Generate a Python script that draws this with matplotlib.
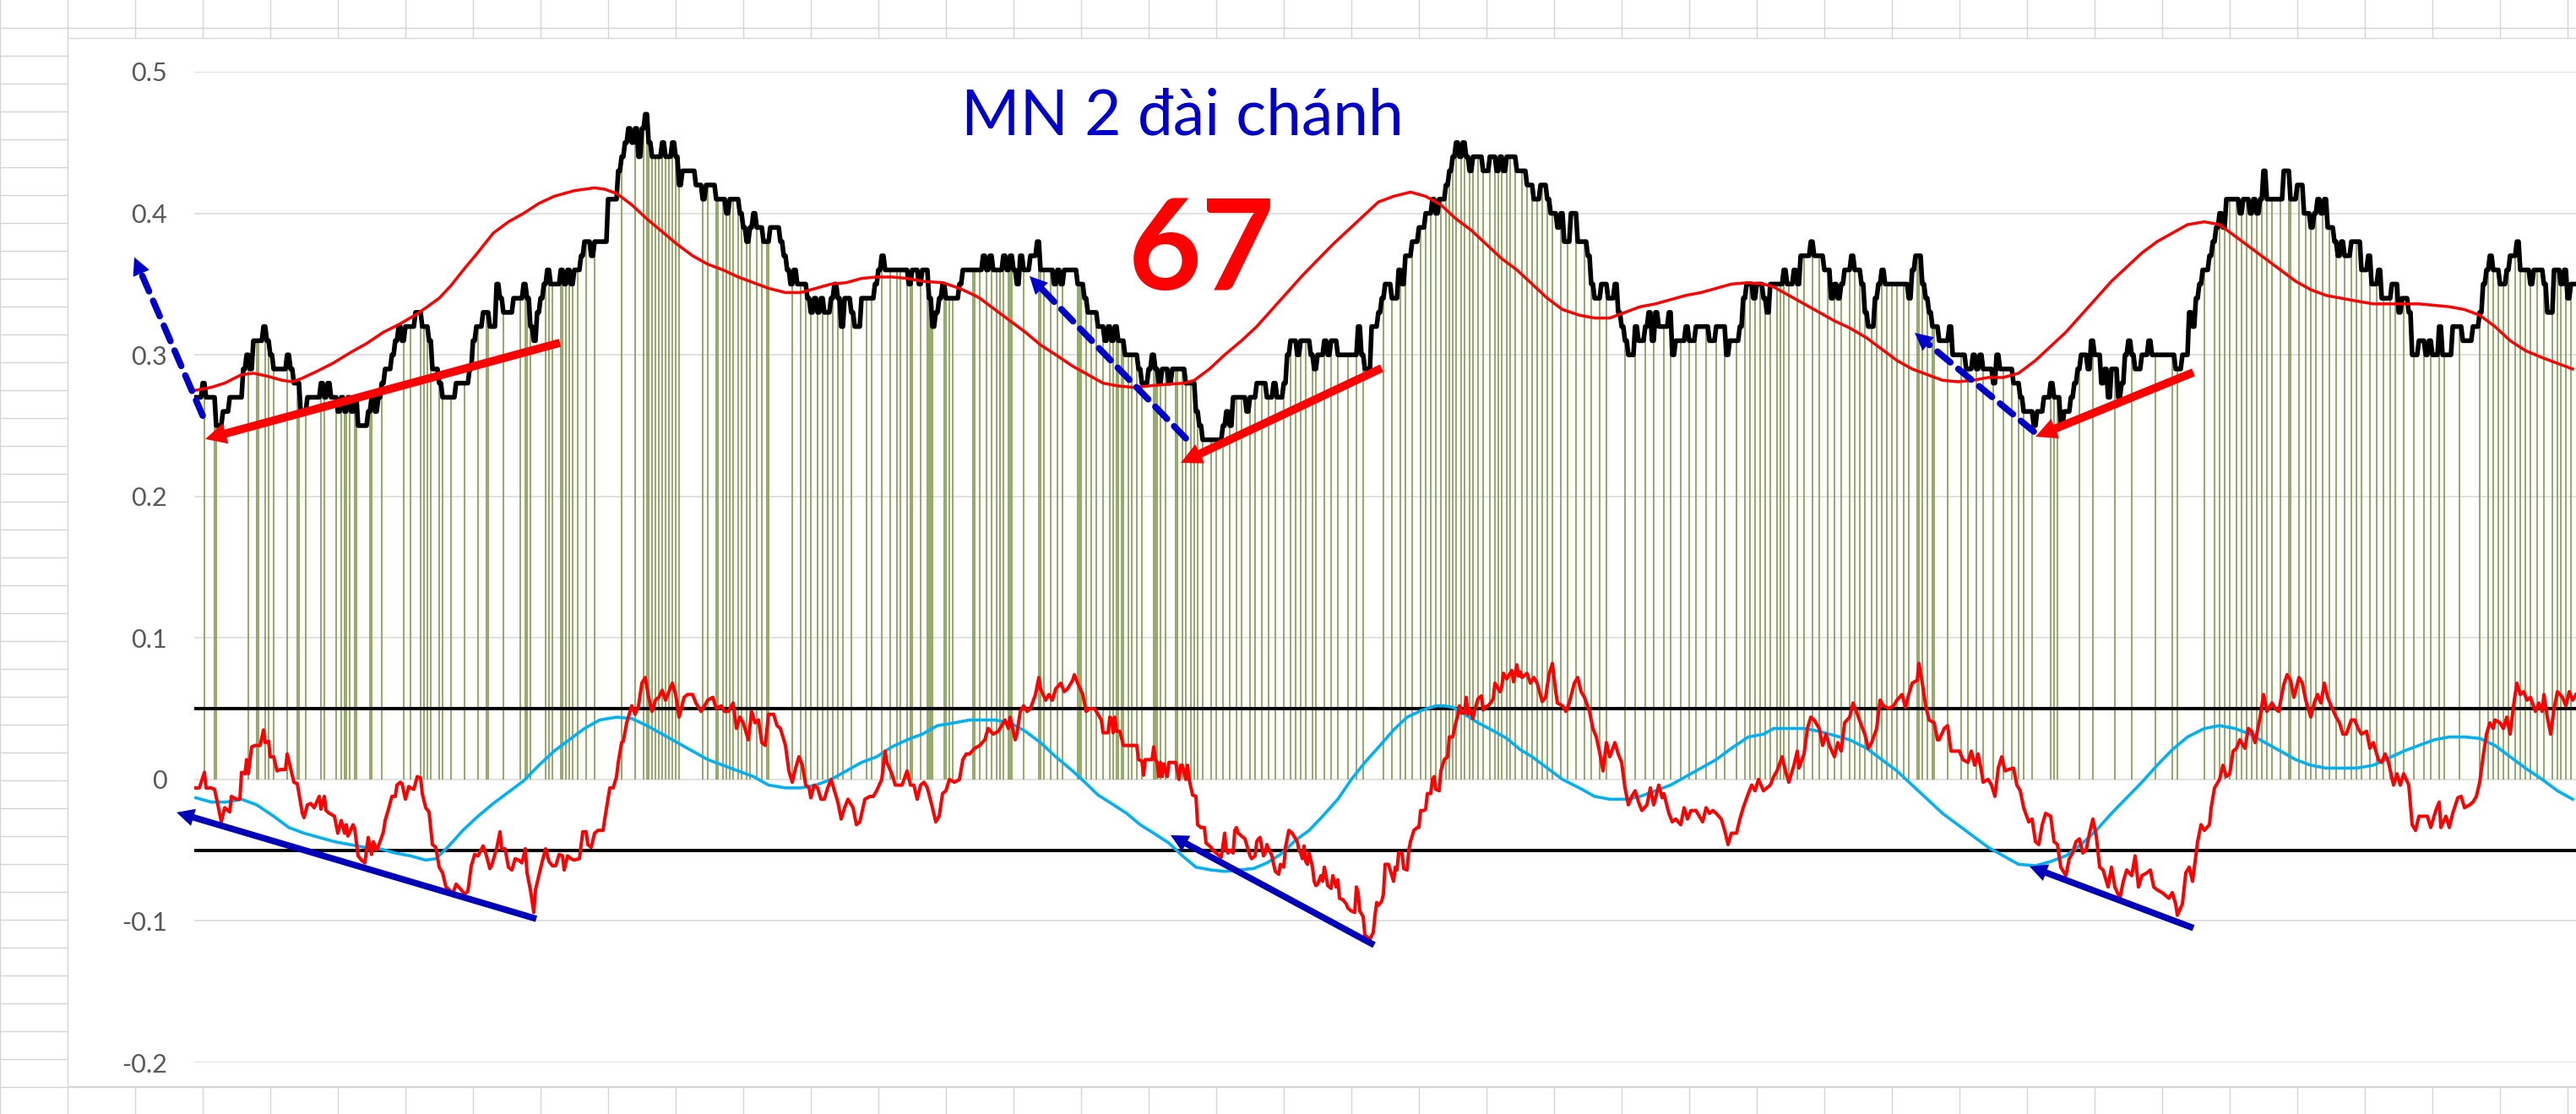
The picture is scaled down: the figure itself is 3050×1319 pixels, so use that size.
import numpy as np
import matplotlib.pyplot as plt
from matplotlib.lines import Line2D
from matplotlib.patches import Rectangle

plt.rcParams['font.family'] = ['Lato', 'DejaVu Sans']

# ---------------- data (x = day index) ----------------
n_days = 1410

# main series (black step line), run-length: day where a level starts, level in hundredths
black_start = [
    0, 4, 6, 12, 16, 20, 28, 30, 32, 34,
    40, 42, 44, 46, 54, 56, 58, 62, 66, 74,
    76, 78, 80, 84, 86, 88, 90, 92, 94, 96,
    102, 104, 106, 108, 110, 112, 116, 118, 120, 122,
    124, 130, 134, 138, 140, 144, 146, 154, 162, 164,
    166, 170, 174, 178, 180, 182, 188, 194, 196, 198,
    200, 202, 204, 206, 208, 210, 216, 218, 220, 222,
    224, 228, 230, 234, 236, 244, 250, 252, 254, 256,
    258, 260, 262, 264, 266, 268, 270, 276, 278, 282,
    284, 286, 288, 296, 300, 302, 308, 314, 316, 322,
    324, 326, 328, 330, 332, 336, 340, 346, 348, 350,
    352, 354, 356, 362, 364, 366, 368, 370, 372, 376,
    378, 380, 382, 384, 388, 390, 394, 402, 404, 406,
    408, 422, 424, 428, 430, 434, 436, 438, 440, 442,
    444, 452, 454, 466, 468, 470, 472, 478, 480, 482,
    484, 486, 488, 490, 494, 498, 500, 508, 510, 512,
    514, 522, 526, 528, 534, 538, 540, 542, 544, 546,
    550, 558, 560, 564, 566, 568, 570, 572, 576, 578,
    586, 592, 594, 596, 608, 610, 612, 614, 622, 624,
    628, 634, 638, 640, 644, 646, 648, 652, 654, 660,
    662, 664, 668, 670, 672, 676, 688, 690, 692, 696,
    700, 702, 704, 708, 712, 714, 716, 720, 724, 728,
    732, 734, 736, 740, 742, 744, 746, 748, 750, 752,
    754, 756, 762, 766, 770, 772, 774, 776, 782, 788,
    792, 796, 800, 802, 806, 808, 810, 814, 818, 824,
    826, 828, 832, 836, 840, 842, 844, 846, 848, 852,
    854, 858, 860, 862, 864, 866, 872, 874, 876, 882,
    884, 888, 896, 900, 906, 908, 914, 916, 918, 922,
    924, 928, 930, 932, 940, 942, 946, 948, 950, 956,
    958, 964, 968, 970, 972, 974, 976, 980, 982, 986,
    988, 990, 994, 996, 998, 1000, 1014, 1016, 1018, 1022,
    1024, 1026, 1028, 1032, 1038, 1040, 1048, 1052, 1054, 1056,
    1058, 1064, 1066, 1068, 1076, 1080, 1082, 1088, 1090, 1094,
    1098, 1100, 1104, 1106, 1110, 1112, 1114, 1116, 1120, 1122,
    1124, 1128, 1130, 1132, 1134, 1138, 1140, 1142, 1144, 1146,
    1148, 1152, 1156, 1158, 1172, 1176, 1180, 1182, 1184, 1186,
    1188, 1192, 1194, 1196, 1198, 1200, 1202, 1210, 1212, 1216,
    1218, 1220, 1222, 1224, 1226, 1236, 1240, 1244, 1248, 1252,
    1254, 1256, 1258, 1260, 1262, 1266, 1268, 1270, 1272, 1276,
    1282, 1286, 1288, 1292, 1294, 1300, 1304, 1306, 1310, 1312,
    1316, 1320, 1322, 1324, 1328, 1330, 1336, 1342, 1348, 1352,
    1354, 1356, 1358, 1360, 1364, 1368, 1370, 1374, 1376, 1382,
    1384, 1390, 1392, 1396, 1400, 1402, 1404, 1406,
]
black_level = [
    27, 28, 27, 25, 26, 27, 29, 30, 29, 31,
    32, 31, 30, 29, 30, 29, 28, 26, 27, 28,
    27, 28, 27, 26, 27, 26, 27, 26, 27, 25,
    26, 27, 26, 27, 28, 29, 30, 31, 32, 31,
    32, 33, 32, 31, 29, 28, 27, 28, 29, 31,
    32, 33, 32, 35, 34, 33, 34, 35, 34, 32,
    31, 33, 34, 35, 36, 35, 36, 35, 36, 35,
    36, 37, 38, 37, 38, 41, 43, 44, 45, 46,
    45, 46, 44, 46, 47, 45, 44, 45, 44, 45,
    44, 42, 43, 42, 41, 42, 41, 40, 41, 40,
    39, 38, 39, 40, 39, 38, 39, 38, 37, 36,
    35, 36, 35, 34, 33, 34, 33, 34, 33, 34,
    35, 34, 32, 34, 33, 32, 34, 35, 36, 37,
    36, 35, 36, 35, 36, 34, 32, 33, 34, 35,
    34, 35, 36, 37, 36, 37, 36, 37, 36, 37,
    36, 35, 37, 36, 37, 38, 36, 35, 36, 35,
    36, 35, 34, 33, 32, 31, 32, 31, 32, 31,
    30, 29, 28, 29, 30, 29, 28, 29, 28, 29,
    28, 26, 25, 24, 25, 26, 25, 27, 26, 27,
    28, 27, 28, 27, 28, 30, 31, 30, 31, 30,
    29, 30, 31, 30, 31, 30, 32, 30, 29, 32,
    33, 34, 35, 34, 36, 35, 37, 38, 39, 40,
    41, 40, 41, 42, 43, 44, 45, 44, 45, 44,
    43, 44, 43, 44, 43, 44, 43, 44, 43, 42,
    41, 42, 41, 40, 39, 40, 38, 40, 38, 37,
    35, 34, 35, 34, 35, 33, 32, 31, 30, 32,
    31, 32, 33, 31, 33, 32, 33, 30, 31, 32,
    31, 32, 31, 32, 30, 31, 32, 34, 35, 34,
    35, 34, 33, 35, 36, 35, 36, 35, 37, 38,
    37, 36, 34, 35, 34, 35, 36, 37, 36, 35,
    33, 32, 34, 35, 36, 35, 34, 36, 37, 35,
    34, 33, 32, 31, 32, 30, 29, 30, 29, 30,
    29, 28, 30, 29, 28, 27, 26, 25, 26, 27,
    28, 27, 25, 26, 27, 28, 29, 30, 29, 31,
    30, 28, 29, 27, 29, 27, 28, 30, 31, 30,
    29, 30, 31, 30, 29, 30, 33, 32, 34, 35,
    36, 37, 38, 39, 40, 39, 41, 40, 41, 40,
    41, 40, 41, 43, 41, 43, 41, 42, 40, 39,
    40, 41, 40, 41, 39, 38, 37, 38, 37, 38,
    36, 37, 35, 36, 34, 35, 33, 34, 33, 30,
    31, 30, 31, 30, 32, 30, 32, 31, 32, 33,
    35, 36, 37, 36, 35, 36, 37, 38, 36, 35,
    36, 35, 33, 36, 35, 36, 34, 35,
]

# red moving average of the main series
ma_day = [
    0, 9, 17, 27, 34, 42, 51, 57, 62, 71,
    81, 92, 101, 111, 121, 131, 137, 144, 151, 159,
    166, 176, 185, 194, 203, 212, 224, 236, 242, 249,
    258, 267, 276, 285, 294, 303, 312, 321, 330, 339,
    349, 358, 367, 376, 385, 394, 403, 412, 421, 430,
    442, 452, 461, 464, 473, 482, 491, 500, 509, 519,
    528, 537, 546, 555, 564, 573, 585, 591, 600, 609,
    619, 628, 637, 646, 655, 664, 673, 682, 691, 700,
    709, 719, 728, 737, 746, 755, 764, 773, 782, 791,
    800, 809, 819, 828, 837, 846, 855, 864, 873, 882,
    891, 900, 909, 919, 928, 934, 943, 952, 961, 970,
    979, 989, 998, 1007, 1016, 1025, 1034, 1043, 1052, 1061,
    1070, 1079, 1089, 1098, 1107, 1116, 1125, 1134, 1143, 1152,
    1161, 1170, 1179, 1189, 1198, 1207, 1216, 1225, 1234, 1243,
    1252, 1261, 1270, 1279, 1289, 1298, 1307, 1316, 1325, 1334,
    1343, 1352, 1361, 1370, 1379, 1389, 1398, 1407,
]
ma_val = [
    .275, .277, .280, .286, .287, .285, .282, .281, .283, .288,
    .294, .302, .308, .316, .322, .329, .334, .340, .349, .361,
    .371, .386, .394, .400, .407, .412, .416, .418, .417, .414,
    .406, .396, .387, .378, .370, .364, .360, .355, .351, .347,
    .344, .344, .347, .350, .351, .354, .355, .355, .354, .352,
    .351, .347, .342, .340, .332, .324, .316, .307, .300, .292,
    .286, .280, .278, .277, .278, .279, .280, .282, .290, .300,
    .310, .320, .332, .344, .356, .367, .378, .388, .398, .408,
    .412, .415, .412, .406, .396, .388, .378, .368, .360, .350,
    .340, .332, .328, .326, .326, .330, .334, .336, .339, .342,
    .344, .347, .350, .351, .350, .348, .342, .336, .330, .324,
    .319, .312, .304, .296, .290, .286, .282, .281, .282, .284,
    .284, .287, .296, .306, .316, .328, .340, .352, .362, .372,
    .380, .386, .392, .394, .392, .384, .376, .368, .360, .352,
    .346, .342, .340, .338, .336, .336, .336, .336, .335, .334,
    .332, .328, .320, .310, .303, .298, .294, .290,
]

# cyan signal line
cyan_day = [
    0, 9, 18, 27, 36, 46, 55, 64, 73, 82,
    91, 100, 109, 118, 127, 136, 142, 149, 158, 167,
    176, 185, 194, 203, 212, 221, 230, 239, 249, 258,
    267, 276, 285, 294, 303, 312, 321, 330, 339, 349,
    358, 367, 376, 385, 394, 403, 412, 421, 430, 439,
    449, 458, 464, 473, 482, 491, 500, 509, 519, 528,
    534, 542, 551, 559, 567, 576, 584, 592, 601, 609,
    617, 626, 634, 642, 651, 659, 667, 676, 684, 692,
    701, 709, 717, 726, 734, 739, 744, 751, 759, 767,
    776, 784, 791, 800, 809, 819, 828, 837, 846, 855,
    864, 873, 882, 891, 900, 909, 919, 928, 934, 943,
    952, 961, 970, 979, 989, 998, 1007, 1016, 1025, 1034,
    1043, 1052, 1061, 1070, 1079, 1089, 1098, 1107, 1116, 1125,
    1134, 1143, 1152, 1161, 1170, 1179, 1189, 1198, 1207, 1216,
    1225, 1234, 1243, 1252, 1261, 1270, 1279, 1289, 1298, 1307,
    1316, 1325, 1334, 1343, 1352, 1361, 1370, 1379, 1389, 1398,
    1407,
]
cyan_val = [
    -.013, -.016, -.016, -.014, -.018, -.026, -.034, -.038, -.041, -.044,
    -.046, -.048, -.049, -.052, -.054, -.057, -.056, -.048, -.036, -.026,
    -.017, -.009, -.001, .010, .020, .028, .036, .042, .044, .043,
    .038, .032, .026, .020, .014, .010, .006, .002, -.004, -.006,
    -.006, -.004, .000, .006, .012, .016, .023, .028, .032, .038,
    .040, .042, .042, .042, .040, .034, .026, .016, .006, -.004,
    -.011, -.017, -.024, -.032, -.038, -.045, -.054, -.062, -.064, -.065,
    -.064, -.063, -.059, -.053, -.043, -.036, -.026, -.014, .000, .012,
    .024, .035, .044, .049, .052, .052, .051, .046, .040, .035,
    .029, .021, .016, .008, .000, -.006, -.012, -.014, -.014, -.012,
    -.008, -.004, .002, .008, .014, .022, .030, .032, .036, .036,
    .036, .034, .031, .028, .022, .014, .006, -.004, -.014, -.024,
    -.032, -.040, -.048, -.054, -.060, -.061, -.058, -.054, -.046, -.036,
    -.024, -.013, -.002, .010, .021, .030, .036, .038, .036, .032,
    .026, .020, .014, .010, .008, .008, .008, .010, .015, .020,
    .024, .028, .030, .030, .029, .024, .016, .008, .000, -.008,
    -.014,
]

# red oscillator
osc_day = [
    0, 2, 5, 6, 9, 11, 13, 15, 17, 20,
    21, 24, 26, 27, 29, 30, 31, 33, 35, 38,
    40, 41, 43, 44, 46, 48, 50, 53, 54, 56,
    58, 60, 63, 64, 66, 68, 70, 73, 74, 76,
    77, 79, 82, 84, 86, 88, 89, 90, 93, 94,
    96, 98, 100, 102, 104, 105, 107, 109, 111, 112,
    114, 116, 118, 119, 121, 122, 124, 126, 127, 129,
    131, 133, 134, 136, 138, 140, 142, 144, 146, 148,
    150, 152, 154, 157, 159, 161, 163, 165, 167, 170,
    172, 174, 175, 178, 180, 181, 183, 185, 187, 189,
    191, 193, 195, 196, 198, 200, 201, 203, 205, 207,
    209, 211, 213, 215, 217, 218, 220, 222, 224, 227,
    229, 231, 232, 234, 236, 238, 241, 242, 245, 247,
    249, 250, 252, 253, 255, 256, 258, 260, 262, 264,
    266, 268, 270, 272, 274, 276, 278, 280, 282, 284,
    286, 289, 291, 294, 296, 299, 301, 303, 306, 308,
    311, 313, 315, 318, 320, 322, 324, 327, 329, 331,
    333, 335, 337, 339, 342, 344, 346, 349, 351, 353,
    355, 357, 359, 361, 363, 364, 366, 368, 370, 372,
    374, 376, 378, 380, 382, 384, 386, 389, 391, 393,
    396, 399, 401, 403, 406, 408, 409, 412, 414, 418,
    421, 423, 425, 427, 429, 431, 433, 436, 438, 440,
    442, 444, 446, 449, 452, 454, 456, 458, 461, 464,
    467, 469, 472, 475, 477, 479, 481, 482, 485, 486,
    488, 490, 492, 494, 497, 499, 500, 503, 505, 507,
    509, 512, 514, 516, 519, 520, 522, 525, 527, 529,
    532, 534, 536, 537, 540, 541, 542, 543, 544, 545,
    547, 549, 557, 558, 560, 561, 562, 566, 567, 568,
    569, 570, 571, 572, 573, 575, 576, 580, 582, 583,
    584, 586, 587, 588, 590, 592, 593, 595, 597, 598,
    601, 602, 604, 606, 607, 609, 610, 611, 612, 614,
    615, 616, 617, 619, 621, 622, 624, 625, 627, 628,
    629, 630, 631, 632, 633, 634, 635, 637, 638, 639,
    641, 642, 644, 645, 646, 647, 649, 650, 652, 653,
    654, 655, 656, 657, 658, 659, 661, 662, 663, 664,
    666, 667, 668, 669, 670, 672, 673, 674, 675, 676,
    677, 679, 681, 682, 684, 686, 687, 688, 689, 691,
    692, 694, 695, 697, 698, 699, 700, 702, 703, 704,
    706, 707, 709, 710, 711, 712, 714, 715, 717, 718,
    719, 721, 723, 724, 725, 727, 728, 729, 731, 732,
    733, 734, 736, 737, 739, 741, 742, 744, 746, 747,
    748, 749, 751, 752, 753, 754, 756, 757, 759, 761,
    762, 763, 765, 767, 768, 769, 770, 772, 773, 774,
    776, 777, 779, 780, 782, 783, 784, 785, 788, 790,
    792, 794, 797, 799, 801, 803, 805, 806, 809, 811,
    813, 816, 818, 820, 822, 825, 827, 829, 831, 833,
    835, 837, 840, 842, 844, 846, 848, 850, 852, 854,
    856, 859, 861, 863, 866, 868, 869, 872, 874, 876,
    879, 881, 883, 885, 888, 890, 892, 894, 896, 898,
    900, 903, 905, 907, 909, 912, 914, 916, 919, 921,
    923, 925, 928, 930, 932, 934, 936, 939, 941, 943,
    946, 948, 949, 952, 954, 956, 958, 961, 963, 965,
    967, 970, 972, 974, 976, 979, 981, 983, 986, 988,
    990, 992, 995, 997, 999, 1002, 1005, 1007, 1010, 1012,
    1014, 1016, 1019, 1020, 1022, 1024, 1026, 1029, 1031, 1032,
    1035, 1037, 1039, 1042, 1044, 1046, 1049, 1051, 1053, 1055,
    1057, 1058, 1061, 1063, 1065, 1067, 1069, 1071, 1073, 1076,
    1078, 1080, 1082, 1085, 1087, 1089, 1091, 1093, 1095, 1098,
    1100, 1102, 1104, 1107, 1109, 1111, 1113, 1115, 1117, 1119,
    1121, 1123, 1125, 1127, 1129, 1132, 1134, 1136, 1139, 1141,
    1143, 1146, 1148, 1150, 1152, 1155, 1157, 1159, 1161, 1164,
    1166, 1168, 1170, 1172, 1173, 1176, 1178, 1180, 1182, 1185,
    1187, 1189, 1192, 1193, 1195, 1198, 1200, 1202, 1204, 1206,
    1208, 1210, 1213, 1215, 1217, 1219, 1222, 1224, 1226, 1229,
    1231, 1233, 1236, 1238, 1240, 1242, 1245, 1247, 1249, 1252,
    1254, 1256, 1258, 1260, 1262, 1264, 1267, 1269, 1271, 1273,
    1276, 1278, 1280, 1282, 1285, 1287, 1289, 1292, 1294, 1296,
    1298, 1301, 1303, 1305, 1307, 1310, 1312, 1314, 1316, 1319,
    1321, 1323, 1326, 1328, 1329, 1332, 1334, 1336, 1339, 1341,
    1343, 1346, 1348, 1350, 1352, 1354, 1356, 1358, 1360, 1361,
    1364, 1366, 1368, 1370, 1372, 1374, 1376, 1378, 1380, 1382,
    1385, 1387, 1389, 1390, 1392, 1394, 1396, 1398, 1401, 1403,
    1405, 1407, 1409,
]
osc_val = [
    -.006, -.006, .005, -.006, -.006, -.007, -.018, -.030, -.020, -.023,
    -.012, -.014, -.014, .005, .004, .014, .004, .023, .024, .024,
    .035, .026, .027, .016, .016, .006, .007, .007, .018, .008,
    -.002, -.003, -.024, -.027, -.018, -.017, -.020, -.012, -.021, -.012,
    -.022, -.024, -.026, -.038, -.029, -.038, -.032, -.040, -.032, -.035,
    -.054, -.057, -.059, -.041, -.053, -.044, -.050, -.044, -.037, -.029,
    -.021, -.012, -.012, -.004, -.002, -.003, -.014, -.005, -.006, -.007,
    .002, .001, -.010, -.020, -.023, -.046, -.048, -.062, -.066, -.076,
    -.078, -.081, -.074, -.078, -.081, -.079, -.061, -.053, -.054, -.047,
    -.054, -.063, -.061, -.049, -.037, -.049, -.049, -.062, -.064, -.056,
    -.057, -.059, -.049, -.066, -.078, -.094, -.078, -.068, -.058, -.049,
    -.058, -.061, -.061, -.053, -.054, -.064, -.054, -.056, -.057, -.056,
    -.037, -.037, -.046, -.048, -.038, -.036, -.036, -.028, -.006, -.006,
    .002, .012, .026, .027, .040, .044, .052, .046, .052, .068,
    .072, .058, .048, .056, .058, .063, .056, .062, .068, .060,
    .044, .058, .060, .060, .054, .048, .052, .056, .058, .050,
    .052, .048, .048, .054, .036, .044, .040, .028, .048, .040,
    .042, .026, .024, .046, .046, .038, .036, .024, .006, -.002,
    .008, .016, .010, -.004, -.006, -.013, -.004, -.006, -.014, -.014,
    -.006, .000, -.008, -.016, -.028, -.020, -.014, -.020, -.032, -.030,
    -.014, -.012, -.012, -.008, .000, .020, .012, .004, -.004, -.004,
    .006, -.004, -.004, -.014, -.004, -.002, -.006, -.020, -.030, -.026,
    -.010, -.008, .000, -.002, .000, .014, .018, .018, .022, .024,
    .028, .036, .032, .034, .038, .042, .036, .044, .028, .032,
    .048, .052, .048, .050, .060, .072, .064, .056, .060, .056,
    .064, .068, .062, .064, .070, .074, .068, .060, .048, .050,
    .050, .046, .042, .033, .033, .044, .043, .033, .044, .034,
    .034, .024, .024, .014, .013, .003, .014, .014, .023, .014,
    .012, .002, .012, .002, .011, .002, .012, .012, .000, .010,
    .010, .000, .010, .000, -.011, -.012, -.032, -.034, -.034, -.045,
    -.048, -.050, -.052, -.054, -.055, -.038, -.050, -.052, -.050, -.052,
    -.036, -.034, -.038, -.040, -.042, -.046, -.054, -.056, -.054, -.044,
    -.042, -.041, -.048, -.054, -.052, -.046, -.049, -.054, -.060, -.065,
    -.067, -.060, -.062, -.048, -.042, -.036, -.038, -.040, -.044, -.050,
    -.052, -.056, -.047, -.058, -.060, -.052, -.062, -.072, -.075, -.074,
    -.068, -.072, -.062, -.068, -.075, -.077, -.068, -.072, -.076, -.071,
    -.084, -.085, -.088, -.091, -.093, -.094, -.076, -.080, -.093, -.097,
    -.110, -.112, -.113, -.108, -.096, -.087, -.089, -.086, -.081, -.060,
    -.060, -.064, -.072, -.062, -.064, -.052, -.052, -.063, -.064, -.050,
    -.044, -.036, -.034, -.034, -.022, -.022, -.021, -.010, -.010, .000,
    .002, -.007, -.008, .006, .014, .016, .030, .030, .041, .045,
    .052, .047, .047, .058, .046, .050, .043, .049, .057, .059,
    .049, .051, .052, .055, .057, .068, .066, .062, .065, .075,
    .071, .073, .077, .069, .081, .073, .076, .072, .075, .068,
    .072, .068, .055, .058, .074, .082, .062, .054, .052, .048,
    .054, .068, .072, .062, .058, .048, .036, .030, .019, .006,
    .026, .016, .026, .018, .012, -.006, -.018, -.012, -.008, -.016,
    -.022, -.018, -.006, -.018, -.004, -.013, -.010, -.024, -.030, -.028,
    -.032, -.020, -.028, -.022, -.022, -.026, -.030, -.020, -.024, -.022,
    -.024, -.028, -.036, -.046, -.038, -.038, -.028, -.020, -.010, -.004,
    -.008, .000, -.008, -.006, -.004, .002, .006, .016, .006, -.002,
    .010, .020, .008, .018, .036, .044, .042, .036, .024, .032,
    .024, .016, .026, .020, .040, .044, .054, .048, .038, .032,
    .022, .026, .036, .056, .052, .050, .052, .056, .060, .051,
    .060, .068, .070, .082, .068, .052, .042, .040, .028, .028,
    .036, .038, .020, .020, .020, .014, .012, .020, .010, .018,
    .006, -.002, .000, -.004, -.012, .008, .016, .006, .007, .008,
    -.004, -.008, -.020, -.030, -.028, -.044, -.046, -.032, -.024, -.026,
    -.044, -.046, -.062, -.068, -.056, -.052, -.044, -.042, -.052, -.050,
    -.038, -.028, -.040, -.062, -.064, -.076, -.062, -.076, -.084, -.072,
    -.064, -.068, -.054, -.076, -.068, -.066, -.064, -.076, -.078, -.080,
    -.082, -.084, -.080, -.088, -.096, -.088, -.066, -.062, -.072, -.044,
    -.032, -.036, -.032, -.020, -.006, .000, .010, .002, .004, .020,
    .022, .028, .022, .036, .034, .026, .044, .060, .048, .054,
    .050, .048, .067, .074, .070, .058, .072, .068, .056, .044,
    .054, .060, .054, .068, .058, .052, .044, .040, .032, .032,
    .042, .042, .036, .032, .034, .022, .026, .014, .012, .018,
    .012, -.004, .004, -.004, .004, -.004, -.032, -.036, -.026, -.026,
    -.026, -.034, -.022, -.016, -.034, -.026, -.034, -.024, -.013, -.012,
    -.020, -.018, -.016, -.012, -.002, .016, .032, .040, .036, .042,
    .040, .036, .044, .032, .052, .068, .060, .062, .056, .058,
    .048, .054, .048, .060, .044, .032, .050, .062, .058, .052,
    .062, .056, .060,
]

# days that carry a green bar (bar height = black series that day)
bar_day = [
    5, 11, 12, 31, 36, 37, 41, 43, 46, 54, 60, 61, 65, 74, 76, 83, 86, 88, 89, 91,
    94, 95, 103, 104, 110, 123, 127, 133, 135, 137, 139, 144, 146, 151, 159, 167, 172, 173, 182, 192,
    195, 196, 198, 207, 209, 211, 216, 217, 219, 221, 223, 226, 231, 236, 252, 260, 265, 267, 268, 270,
    272, 274, 276, 278, 280, 282, 284, 286, 300, 303, 308, 309, 312, 314, 316, 318, 321, 323, 326, 328,
    332, 335, 338, 339, 353, 358, 361, 364, 368, 371, 374, 377, 380, 383, 388, 397, 400, 406, 411, 415,
    417, 421, 423, 424, 429, 433, 434, 435, 436, 443, 444, 446, 448, 460, 461, 464, 468, 471, 474, 476,
    478, 481, 482, 483, 490, 499, 500, 502, 506, 510, 513, 522, 523, 524, 527, 530, 533, 537, 541, 543,
    545, 546, 548, 549, 552, 554, 557, 560, 567, 568, 569, 571, 574, 580, 581, 584, 586, 589, 591, 593,
    596, 601, 604, 608, 612, 616, 619, 624, 627, 631, 635, 639, 644, 648, 651, 654, 657, 661, 663, 668,
    672, 676, 682, 687, 691, 703, 708, 713, 716, 720, 725, 728, 731, 734, 737, 740, 742, 744, 746,
    749, 751, 754, 756, 759, 762, 766, 769, 771, 773, 776, 778, 781, 785, 788, 791, 794, 797, 800, 803,
    808, 812, 817, 822, 826, 831, 835, 846, 852, 858, 863, 869, 873, 879, 884, 888, 894, 900, 905, 912,
    917, 920, 923, 926, 929, 932, 936, 938, 940, 943, 948, 952, 957, 961, 966, 970, 974, 979, 982, 985,
    988, 992, 995, 998, 1001, 1004, 1007, 1011, 1014, 1019, 1020, 1022, 1025, 1028, 1029, 1037, 1045, 1049, 1054, 1058,
    1064, 1070, 1075, 1079, 1082, 1087, 1098, 1100, 1102, 1115, 1123, 1136, 1146, 1160, 1170, 1173, 1189, 1195, 1198, 1201,
    1204, 1208, 1211, 1214, 1217, 1220, 1223, 1226, 1229, 1234, 1239, 1240, 1245, 1249, 1252, 1255, 1259, 1263, 1267, 1272,
    1276, 1279, 1282, 1287, 1291, 1295, 1299, 1302, 1307, 1313, 1319, 1323, 1328, 1331, 1340, 1352, 1357, 1360, 1363, 1366,
    1369, 1373, 1376, 1379, 1382, 1386, 1390, 1395, 1398, 1400, 1403, 1406,
]

yticks = [0.5, 0.4, 0.3, 0.2, 0.1, 0, -0.1, -0.2]
ytick_labels = ['0.5', '0.4', '0.3', '0.2', '0.1', '0', '-0.1', '-0.2']
band = 0.05
title = 'MN 2 đài chánh'
big_number = '67'

# hand drawn arrows on the sheet: (tail, head) in (day, value)
red_arrows = [((215.5, 0.3085), (5.5, 0.2405)),
              ((702, 0.2906), (583, 0.2237)),
              ((1182.5, 0.2876), (1089, 0.2422))]
dash_arrows = [((4, 0.257), (-36.5, 0.369)),
               ((586, 0.241), (493.5, 0.3556)),
               ((1088, 0.2458), (1017.5, 0.3156))]
navy_arrows = [((201.5, -0.0985), (-11.5, -0.0233)),
               ((697.5, -0.117), (577, -0.0394)),
               ((1182.5, -0.105), (1085.5, -0.0615))]

# ---------------- build ----------------
black = np.repeat(np.array(black_level) / 100, np.diff(black_start + [n_days]))
days = np.arange(n_days)
bars = np.array(bar_day)

W, H = 3050, 1319
fig = plt.figure(figsize=(W / 100, H / 100), dpi=100)
fig.patch.set_facecolor('white')

# spreadsheet cells behind the chart object
for gx in range(0, W, 80):
    fig.add_artist(Line2D([gx / W] * 2, [0, 1], color='#d4d4d4', lw=1, zorder=-3))
for gy in range(33, H, 33):
    fig.add_artist(Line2D([0, 1], [1 - gy / H] * 2, color='#d4d4d4', lw=1, zorder=-3))
fig.add_artist(Rectangle((80 / W, 1 - 1286 / H), 1, (1286 - 45) / H,
                         facecolor='white', edgecolor='#d9d9d9', lw=1, zorder=-2))

ax = fig.add_axes([230 / W, 1 - 1258 / H, 1 - 230 / W, 1173 / H])
ax.set_facecolor('none')
ax.set_xlim(-1, n_days - 1)
ax.set_ylim(-0.2, 0.5)
for s in ax.spines.values():
    s.set_visible(False)
ax.set_xticks([])
ax.set_yticks(yticks)
ax.set_yticklabels(ytick_labels)
ax.tick_params(axis='y', length=0, pad=23, labelsize=22, labelcolor='#595959')
ax.yaxis.grid(True, color='#d9d9d9', lw=1.1)
ax.set_axisbelow(True)

ax.vlines(bars, 0, black[bars], color='#77933c', lw=1.1, zorder=1)
ax.axhline(band, color='black', lw=2.8, zorder=2)
ax.axhline(-band, color='black', lw=2.8, zorder=2)
ax.plot(cyan_day, cyan_val, color='#00b0f0', lw=2.6, zorder=3)
ax.plot(osc_day, osc_val, color='#ff0000', lw=2.9, zorder=4)
ax.plot(days, black, color='black', lw=4, zorder=5, solid_joinstyle='round')
ax.plot(ma_day, ma_val, color='#ff0000', lw=2.5, zorder=6)


def arrow(tail, head, color, width, head_len, head_w, dashed=False):
    tw = 0.01 if dashed else width
    style = f'simple,head_length={head_len},head_width={head_w},tail_width={tw}'
    ax.annotate('', xy=head, xytext=tail, annotation_clip=False, zorder=8,
                arrowprops=dict(arrowstyle=style, mutation_scale=1, color=color, lw=0,
                                shrinkA=0, shrinkB=0, clip_on=False))
    if dashed:
        ax.annotate('', xy=head, xytext=tail, annotation_clip=False, zorder=8,
                    arrowprops=dict(arrowstyle='-', color=color, lw=width, ls=(0, (2.6, 1.6)),
                                    shrinkA=0, shrinkB=head_len - 2, clip_on=False))


for tail, head in red_arrows:
    arrow(tail, head, '#ff0000', 7, 18, 18)
for tail, head in dash_arrows:
    arrow(tail, head, '#0000cc', 5.5, 15, 15, dashed=True)
for tail, head in navy_arrows:
    arrow(tail, head, '#0000bb', 5.5, 15, 15)

fig.text(1400 / W, 1 - 160 / H, title, ha='center', va='baseline', fontsize=54, color='#0000cc')
fig.text(1423 / W, 1 - 343 / H, big_number, ha='center', va='baseline', fontsize=108,
         fontweight='bold', color='#ff0000')

fig.savefig('out.png', dpi=100)
